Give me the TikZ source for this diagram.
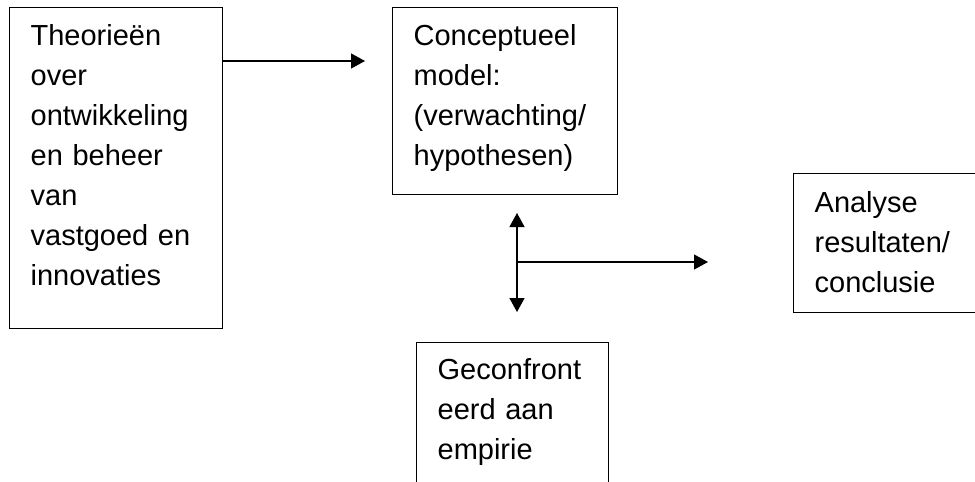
\documentclass[tikz,border=0pt]{standalone}
\usepackage{fontspec}
\setmainfont{Liberation Sans}
\usetikzlibrary{calc,arrows.meta}

\tikzset{
	vak/.style={draw, line width=1.3pt, anchor=north west, align=left, inner xsep=21pt, inner ysep=0pt, font=\fontsize{29}{40}\selectfont},
	pijl/.style={line width=1.3pt, -{Triangle[length=14pt,width=15pt]}},
	dubbelpijl/.style={line width=1.3pt, {Triangle[length=14pt,width=15pt]}-{Triangle[length=14pt,width=15pt]}}
}

\begin{document}
\begin{tikzpicture}[x=1pt,y=-1pt]
		\useasboundingbox (0,0) rectangle (975,482);
		\clip (0,0) rectangle (975,482);
		
		\node [vak, text width=171pt, text height=38pt, text depth=283pt] (theorie) at (9,7) {Theorieën\\over\\ontwikkeling\\en beheer\\van\\vastgoed en\\innovaties};
		\node [vak, text width=183pt, text height=38pt, text depth=149pt] (model) at (392,7) {Conceptueel\\model:\\(verwachting/\\hypothesen)};
		\node [vak, text width=200pt, text height=39pt, text depth=100pt] (analyse) at (793,173) {Analyse\\resultaten/\\conclusie};
		\node [vak, text width=150pt, text height=37pt, text depth=200pt] (empirie) at (416,342) {Geconfront\\eerd aan\\empirie};
		
		\coordinate (naarmodel) at (365,61);
		\coordinate (boven) at (517,213);
		\coordinate (onder) at (517,312);
		\coordinate (midden) at (517,262);
		\coordinate (naaranalyse) at (708,262);
		
		\draw [pijl] (theorie.east |- naarmodel) -- (naarmodel);
		\draw [dubbelpijl] (boven) -- (onder);
		\draw [pijl] (midden) -- (naaranalyse);
\end{tikzpicture}
\end{document}
